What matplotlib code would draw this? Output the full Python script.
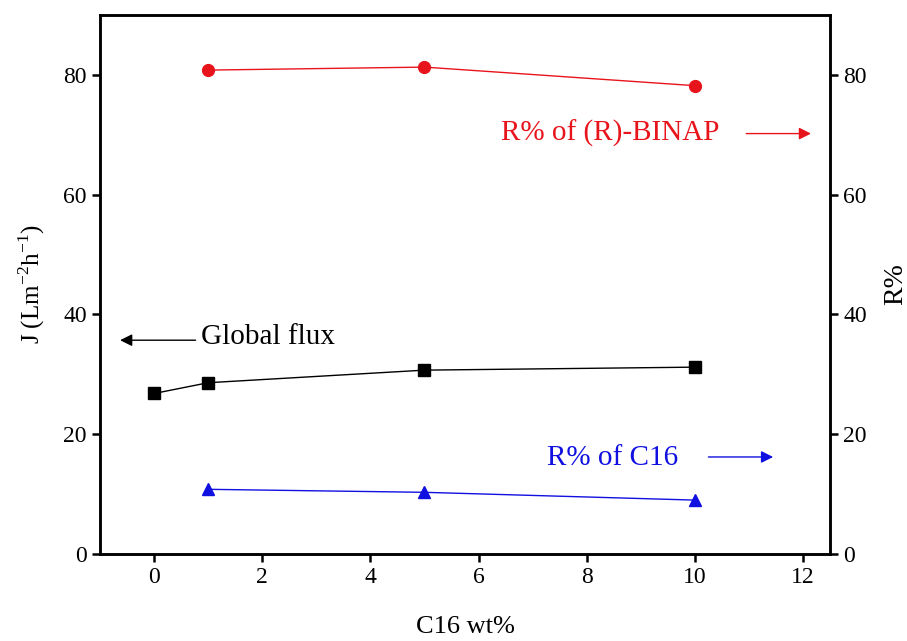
import matplotlib.pyplot as plt
import numpy as np

plt.rcParams['font.family'] = ['Liberation Serif', 'DejaVu Serif']
plt.rcParams['mathtext.fontset'] = 'custom'
plt.rcParams['mathtext.rm'] = 'Liberation Serif'

# Daten
x_flux = [0, 1, 5, 10]
flux = [26.8, 28.6, 30.7, 31.2]

x_r = [1, 5, 10]
r_binap = [80.8, 81.3, 78.2]
r_c16 = [10.8, 10.3, 9.0]

fig = plt.figure(figsize=(9.07, 6.41), dpi=100)
ax = fig.add_axes([100/907, 1 - 554/641, 730/907, 539/641])
ax2 = ax.twinx()

ax.plot(x_flux, flux, color='black', marker='s', markersize=8, lw=1)
ax2.plot(x_r, r_binap, color='#e8141c', marker='o', markersize=8.5, lw=1)
ax2.plot(x_r, r_c16, color='#1010e0', marker='^', markersize=8.5, lw=1)

ax.set_xlim(-1, 12.5)
ax.set_ylim(0, 90)
ax2.set_ylim(0, 90)
ax.set_xticks([0, 2, 4, 6, 8, 10, 12])
ax.set_yticks([0, 20, 40, 60, 80])
ax2.set_yticks([0, 20, 40, 60, 80])

for a in (ax, ax2):
    for s in a.spines.values():
        s.set_linewidth(1.8)
    a.tick_params(width=1.8, length=6, labelsize=17)

ax.set_xlabel('C16 wt%', fontsize=19, labelpad=20)
ax.set_ylabel('J (Lm$^{-2}$h$^{-1}$)', fontsize=18, labelpad=12)
ax2.set_ylabel('R%', fontsize=20, labelpad=12)

# Pfeile und Text
ax.annotate('', xy=(-0.68, 35.7), xytext=(0.82, 35.7),
            arrowprops=dict(arrowstyle='-|>', color='black', lw=1, mutation_scale=18))
ax.text(0.86, 36.3, 'Global flux', fontsize=21, va='center', ha='left')

ax2.annotate('', xy=(12.2, 70.2), xytext=(10.9, 70.2),
             arrowprops=dict(arrowstyle='-|>', color='#e8141c', lw=1, mutation_scale=18))
ax2.text(10.45, 70.2, 'R% of (R)-BINAP', fontsize=21, va='center', ha='right', color='#e8141c')

ax2.annotate('', xy=(11.5, 16.2), xytext=(10.2, 16.2),
             arrowprops=dict(arrowstyle='-|>', color='#1010e0', lw=1, mutation_scale=18))
ax2.text(9.7, 16.0, 'R% of C16', fontsize=21, va='center', ha='right', color='#1010e0')

plt.savefig('out.png', dpi=100)
